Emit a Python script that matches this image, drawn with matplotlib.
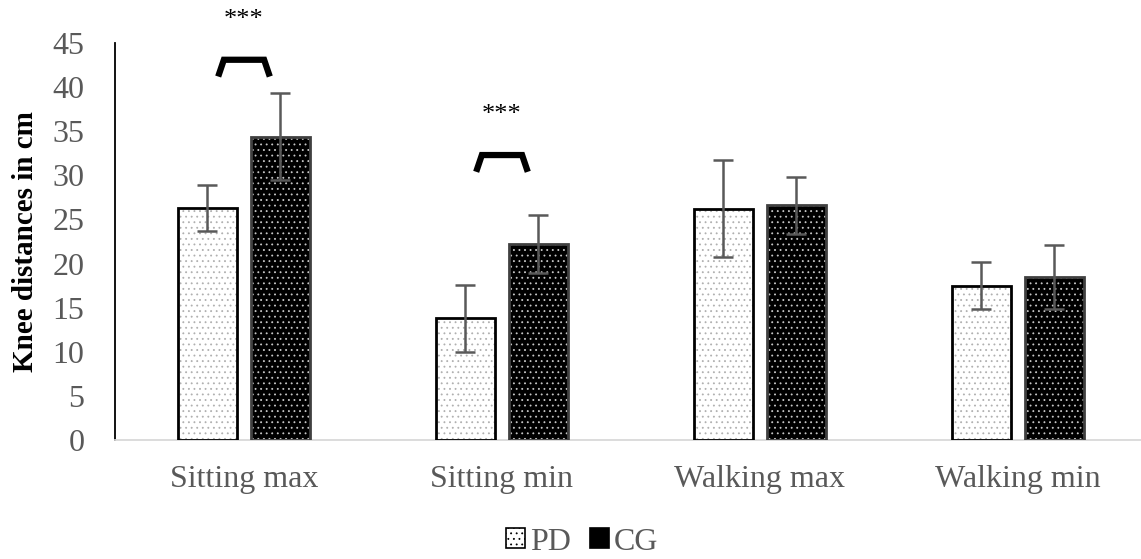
import matplotlib
matplotlib.use("Agg")
import matplotlib.pyplot as plt
import matplotlib.patches as mpatches
import numpy as np

plt.rcParams['font.family'] = ['Liberation Serif', 'DejaVu Serif']
plt.rcParams['hatch.linewidth'] = 0.6

categories = ["Sitting max", "Sitting min", "Walking max", "Walking min"]
groups = ["PD", "CG"]
pd_mean = [26.3, 13.8, 26.2, 17.5]
pd_sd = [2.6, 3.8, 5.5, 2.7]
cg_mean = [34.4, 22.2, 26.6, 18.5]
cg_sd = [4.9, 3.3, 3.2, 3.6]
yticks = [0, 5, 10, 15, 20, 25, 30, 35, 40, 45]
# significance markers: (category index, bracket height, label)
sig_marks = [(0, 43.1, "***"), (1, 32.3, "***")]

W, H = 1141, 559
fig = plt.figure(figsize=(W / 100, H / 100), dpi=100)
ax = fig.add_axes([115 / W, 1 - 440 / H, (1141 - 115) / W, 397 / H])

x = np.arange(len(categories))
bw = 0.229
off = 0.1415
tick_col = "#595959"

styles = {
    "PD": dict(face="white", dots="#b0b0b0", edge="black"),
    "CG": dict(face="black", dots="#c8c8c8", edge="#404040"),
}

for xs, means, sds, g in [(x - off, pd_mean, pd_sd, "PD"), (x + off, cg_mean, cg_sd, "CG")]:
    st = styles[g]
    ax.bar(xs, means, bw, color=st["face"], edgecolor=st["dots"], hatch="...",
           linewidth=0, zorder=2)
    ax.bar(xs, means, bw, fill=False, edgecolor=st["edge"], linewidth=2.0, zorder=3)
    ax.errorbar(xs, means, yerr=sds, fmt="none", ecolor=tick_col, elinewidth=1.8,
                capsize=7, capthick=1.8, zorder=4)

# significance brackets
for ci, h, lab in sig_marks:
    c = x[ci]
    ax.plot([c - 0.1, c - 0.078, c + 0.078, c + 0.1], [h - 1.9, h, h, h - 1.9],
            color="black", lw=4.5, solid_joinstyle="miter", solid_capstyle="butt",
            clip_on=False, zorder=5)
    ax.text(c, h + 4.5, lab, ha="center", va="center", fontsize=19, color="black",
            clip_on=False)

ax.set_xlim(-0.5, 3.477)
ax.set_ylim(0, 45)
ax.set_yticks(yticks)
ax.set_yticklabels([str(t) for t in yticks])
ax.set_xticks(x)
ax.set_xticklabels(categories)
ax.tick_params(axis="both", length=0, labelsize=23, colors=tick_col)
ax.tick_params(axis="x", pad=18)
ax.tick_params(axis="y", pad=22)
for s in ["top", "right"]:
    ax.spines[s].set_visible(False)
ax.spines["left"].set_color("black")
ax.spines["left"].set_linewidth(1.3)
ax.spines["bottom"].set_color("#d9d9d9")
ax.spines["bottom"].set_linewidth(1.3)

ax.set_ylabel("Knee distances in cm", fontsize=21, fontweight="bold", color="black",
              labelpad=10)

handles = [
    mpatches.Patch(facecolor="white", edgecolor="black", hatch="...", linewidth=1.2),
    mpatches.Patch(facecolor="black", edgecolor="black", hatch="...", linewidth=1.2),
]
leg = fig.legend(handles, groups, loc="center", bbox_to_anchor=(582 / W, 1 - 542 / H),
                 ncol=2, frameon=False, fontsize=23, handlelength=0.6, handleheight=0.6,
                 handletextpad=0.15, columnspacing=0.6, labelcolor=tick_col)

fig.savefig("out.png", dpi=100)
